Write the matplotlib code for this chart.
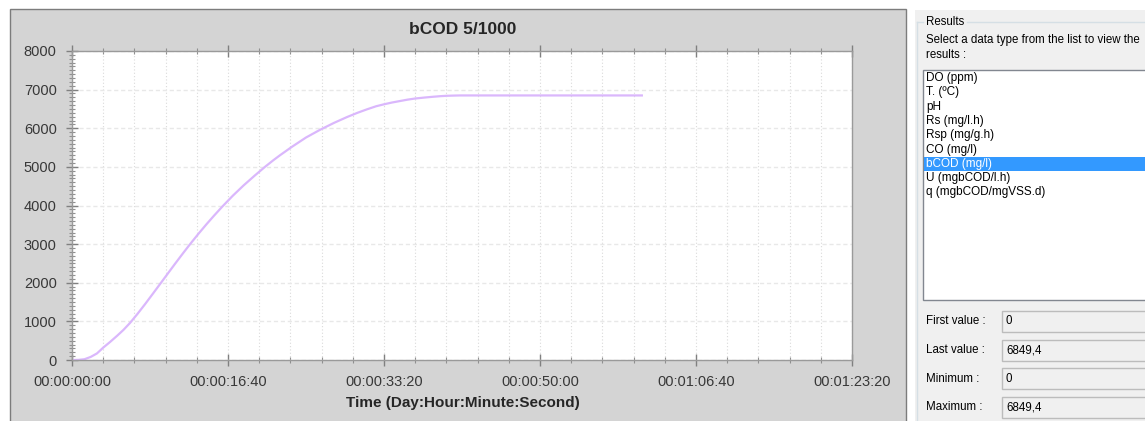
"""
bCOD 5/1000 simulation result screen: chart panel plus the Results side panel.
Saves out.png (1145x421).
"""

import matplotlib
matplotlib.use('Agg')
import matplotlib.pyplot as plt
from matplotlib.patches import Rectangle
from matplotlib.ticker import MultipleLocator, FuncFormatter

plt.rcParams['font.family'] = ['Liberation Sans', 'DejaVu Sans']

W, H = 1145, 421

# Data (time in seconds, bCOD in mg/l)
time_s = [0, 40, 80, 120, 160, 200, 245, 290, 330, 372, 420, 470, 520, 577,
          620, 660, 710, 756, 810, 860, 910, 962, 1030, 1100, 1170, 1237,
          1290, 1333, 1410, 1500, 1590, 1680, 1763, 1830, 1891, 1950, 2000,
          2050, 2103, 2150, 2200, 2260, 2314, 2360, 2400, 2450, 2487, 3660]
bcod = [0, 3, 20, 80, 170, 320, 470, 630, 780, 960, 1195, 1455, 1725, 2035,
        2270, 2488, 2755, 2995, 3265, 3505, 3735, 3965, 4250, 4520, 4770, 5000,
        5170, 5300, 5520, 5760, 5960, 6140, 6290, 6400, 6490, 6570, 6620,
        6665, 6705, 6740, 6770, 6795, 6815, 6830, 6840, 6846, 6849.4, 6849.4]

title = 'bCOD 5/1000'
xlabel = 'Time (Day:Hour:Minute:Second)'

# Side panel content
data_types = ['DO (ppm)', 'T. (ºC)', 'pH', 'Rs (mg/l.h)', 'Rsp (mg/g.h)',
              'CO (mg/l)', 'bCOD (mg/l)', 'U (mgbCOD/l.h)', 'q (mgbCOD/mgVSS.d)']
selected = 'bCOD (mg/l)'
stat_names = ['First value :', 'Last value :', 'Minimum :', 'Maximum :']
stat_values = ['0', '6849,4', '0', '6849,4']


def dhms(t, pos=None):
    t = int(round(t))
    d, r = divmod(t, 86400)
    h, r = divmod(r, 3600)
    m, s = divmod(r, 60)
    return f'{d:02d}:{h:02d}:{m:02d}:{s:02d}'


fig = plt.figure(figsize=(W / 100, H / 100), dpi=100)
fig.patch.set_facecolor('white')

# background layer in pixel coordinates
bg = fig.add_axes([0, 0, 1, 1], zorder=0)
bg.set_xlim(0, W)
bg.set_ylim(H, 0)
bg.axis('off')

# chart panel
bg.add_patch(Rectangle((10, 9), 896, 420, facecolor='#d4d4d4',
                       edgecolor='#7c7c7c', lw=1))

# right "Results" panel
bg.add_patch(Rectangle((915, 10), 232, 415, facecolor='#f0f0f0', edgecolor='none'))
bg.plot([917, 923], [22, 22], color='#d5dfe5', lw=1)
bg.plot([967, W], [22, 22], color='#d5dfe5', lw=1)
bg.plot([917, 917], [22, H], color='#d5dfe5', lw=1)
bg.text(926, 22, 'Results', fontsize=8.3, va='center', ha='left', color='black')
bg.text(926, 40, 'Select a data type from the list to view the', fontsize=8.3,
        va='center', ha='left')
bg.text(926, 55, 'results :', fontsize=8.3, va='center', ha='left')

# list box
bg.add_patch(Rectangle((923, 70), 240, 230, facecolor='white', edgecolor='#828790', lw=1))
for i, name in enumerate(data_types):
    y = 78 + i * 14.3
    if name == selected:
        bg.add_patch(Rectangle((924, y - 7), 240, 14.3, facecolor='#3399ff',
                               edgecolor='none'))
        bg.text(926, y, name, fontsize=8.5, va='center', ha='left', color='white')
    else:
        bg.text(926, y, name, fontsize=8.5, va='center', ha='left', color='black')

# statistics boxes
for i, (lab, val) in enumerate(zip(stat_names, stat_values)):
    y = 321.5 + i * 28.6
    bg.add_patch(Rectangle((1002, y - 10.5), 160, 21, facecolor='#f0f0f0',
                           edgecolor='#bcbcbc', lw=1))
    bg.text(926, y, lab, fontsize=8.3, va='center', ha='left')
    bg.text(1006, y, val, fontsize=8.3, va='center', ha='left')

# plot area
ax = fig.add_axes([72 / W, (H - 360) / H, 780 / W, 309 / H], zorder=1)
ax.set_facecolor('white')
ax.plot(time_s, bcod, color='#dab7fc', lw=1.6, solid_capstyle='butt',
        solid_joinstyle='round')

ax.set_xlim(0, 5000)
ax.set_ylim(0, 8000)
ax.xaxis.set_major_locator(MultipleLocator(1000))
ax.xaxis.set_minor_locator(MultipleLocator(200))
ax.yaxis.set_major_locator(MultipleLocator(1000))
ax.yaxis.set_minor_locator(MultipleLocator(100))
ax.xaxis.set_major_formatter(FuncFormatter(dhms))

ax.grid(which='both', axis='x', linestyle=(0, (1, 2)), color='#dadada', lw=0.8)
ax.grid(which='major', axis='y', linestyle=(0, (3, 2)), color='#e8e8e8', lw=1)
ax.set_axisbelow(True)

for side in ['left', 'bottom', 'top', 'right']:
    ax.spines[side].set_color('#9a9a9a')
    ax.spines[side].set_linewidth(1)

ax.tick_params(which='major', direction='inout', length=8, width=1,
               color='#808080', labelsize=10.5, labelcolor='#383838', pad=7,
               top=True, right=False)
ax.tick_params(which='minor', direction='inout', length=4, width=0.8,
               color='#909090', top=True, right=False)

fig.text(463 / W, 1 - 30 / H, title, ha='center', va='center', fontsize=12.5,
         fontweight='bold', color='#262626')
fig.text(463 / W, 1 - 403 / H, xlabel, ha='center', va='center', fontsize=11,
         fontweight='bold', color='#262626')

plt.savefig('out.png', dpi=100)
